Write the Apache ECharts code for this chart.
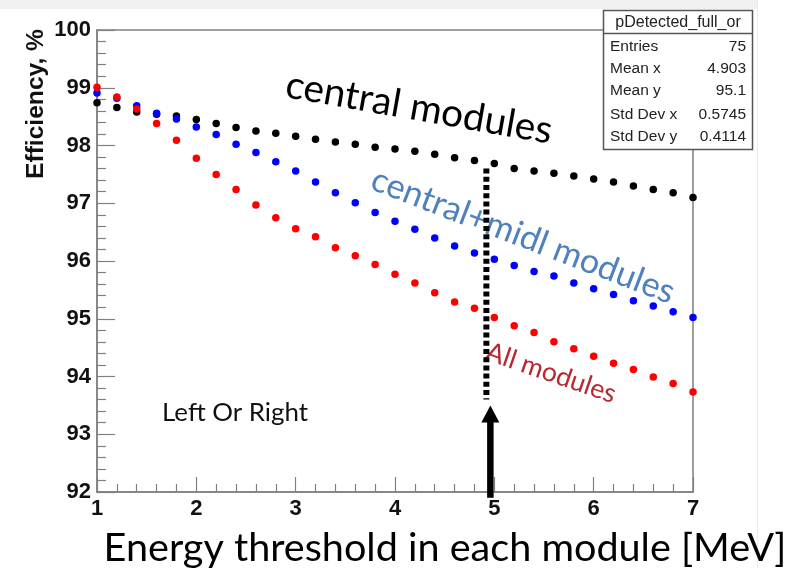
<!DOCTYPE html>
<html><head><meta charset="utf-8">
<script src="https://cdn.jsdelivr.net/npm/echarts@6/dist/echarts.min.js"></script>
<style>html,body{margin:0;padding:0;background:#fff}#c{width:790px;height:568px}</style>
</head><body><div id="c"></div>
<script>
// ---- data ----
const thresholds = [1.0,1.2,1.4,1.6,1.8,2.0,2.2,2.4,2.6,2.8,3.0,3.2,3.4,3.6,3.8,4.0,4.2,4.4,4.6,4.8,5.0,5.2,5.4,5.6,5.8,6.0,6.2,6.4,6.6,6.8,7.0];
const centralModules = [98.74,98.66,98.58,98.54,98.51,98.45,98.38,98.31,98.25,98.21,98.16,98.11,98.06,98.02,97.97,97.94,97.90,97.85,97.79,97.74,97.69,97.60,97.56,97.52,97.47,97.42,97.37,97.30,97.24,97.18,97.10];
const centralMidlModules = [98.91,98.82,98.69,98.56,98.46,98.32,98.19,98.02,97.88,97.72,97.56,97.37,97.18,97.01,96.84,96.69,96.55,96.40,96.26,96.14,96.03,95.92,95.82,95.74,95.62,95.52,95.42,95.31,95.22,95.12,95.02];
const allModules = [99.01,98.84,98.63,98.38,98.09,97.78,97.50,97.24,96.97,96.75,96.56,96.42,96.23,96.09,95.94,95.77,95.62,95.45,95.29,95.18,95.02,94.88,94.76,94.60,94.48,94.35,94.23,94.12,93.99,93.88,93.73];
const xTickLabels = ['1','2','3','4','5','6','7'];
const yTickLabels = ['92','93','94','95','96','97','98','99','100'];
const statsTitle = 'pDetected_full_or';
const statsLabels = ['Entries','Mean x','Mean y','Std Dev x','Std Dev y'];
const statsValues = ['75','4.903','95.1','0.5745','0.4114'];
const yTitle = 'Efficiency, %';
const xTitle = 'Energy threshold in each module [MeV]';
const noteCentral = 'central modules';
const noteMidl = 'central+midl modules';
const noteAll = 'All modules';
const noteSide = 'Left Or Right';
const cutX = 4.92, cutTop = 97.6, cutBottom = 93.6;
const arrowX = 4.96, arrowTip = 93.5, arrowBase = 91.9;

// ---- helpers ----
const cv = document.createElement('canvas').getContext('2d');
function fitSize(text, family, weight, width){
  cv.font = weight + ' 100px ' + family;
  return 100 * width / cv.measureText(text).width;
}
function pts(ys){ return thresholds.map((x,i)=>[x, ys[i]]); }

const chart = echarts.init(document.getElementById('c'), null, {renderer:'canvas'});
const axisGray = '#808080';
const labelFont = "'Liberation Sans Narrow','Liberation Sans',Arial,sans-serif";
const noteFont = "Lato, 'Open Sans', sans-serif";

chart.setOption({
  animation:false,
  backgroundColor:'#fff',
  grid:{left:97, right:97, top:30, bottom:76, show:true, borderColor:axisGray, borderWidth:1.5},
  xAxis:{type:'value', min:1, max:7, interval:1,
    axisLine:{lineStyle:{color:axisGray, width:1.5}},
    axisTick:{inside:true, length:15, lineStyle:{color:axisGray, width:1.2}},
    minorTick:{show:true, splitNumber:5, length:8, lineStyle:{color:axisGray, width:1.2}},
    splitLine:{show:false},
    axisLabel:{margin:6, color:'#111', fontWeight:'bold', fontSize:22, fontFamily:labelFont,
      formatter:(v)=>xTickLabels[Math.round(v)-1]}
  },
  yAxis:{type:'value', min:92, max:100, interval:1,
    axisLine:{lineStyle:{color:axisGray, width:1.5}},
    axisTick:{inside:true, length:18, lineStyle:{color:axisGray, width:1.2}},
    minorTick:{show:true, splitNumber:5, length:9, lineStyle:{color:axisGray, width:1.2}},
    splitLine:{show:false},
    axisLabel:{margin:6, color:'#111', fontWeight:'bold', fontSize:22, fontFamily:labelFont,
      formatter:(v)=>yTickLabels[Math.round(v)-92]}
  },
  series:[
    {type:'scatter', name:'central', data:pts(centralModules), symbolSize:7.5, itemStyle:{color:'#000', opacity:1}, z:2},
    {type:'scatter', name:'central+midl', data:pts(centralMidlModules), symbolSize:7.5, itemStyle:{color:'#0000ff', opacity:1}, z:3},
    {type:'scatter', name:'all', data:pts(allModules), symbolSize:7.5, itemStyle:{color:'#ff0000', opacity:1}, z:4}
  ]
});

const P = (x,y)=>chart.convertToPixel({gridIndex:0},[x,y]);
const cTop = P(cutX, cutTop), cBot = P(cutX, cutBottom);
const aTip = P(arrowX, arrowTip), aBase = P(arrowX, arrowBase);

function note(text, x, y, width, deg, color, size){
  const fs = size || fitSize(text, noteFont, 'normal', width);
  return {type:'text', x:x, y:y, rotation:-deg*Math.PI/180, z:50,
    style:{text:text, fill:color, font:'normal '+fs.toFixed(1)+'px '+noteFont,
      textAlign:'center', textVerticalAlign:'middle', align:'center', verticalAlign:'middle'}};
}

const yTitleSize = fitSize(yTitle, "'Liberation Sans',Arial", 'bold', 150);
const statsFont = "'Liberation Sans',Arial,sans-serif";
const graphics = [
  {type:'rect', shape:{x:0,y:0,width:757,height:9}, style:{fill:'#f0f0f0'}, z:0, silent:true},
  {type:'line', shape:{x1:757.5,y1:0,x2:757.5,y2:568}, style:{stroke:'#ececec', lineWidth:1}, z:0},
  // dotted cut line
  {type:'line', shape:{x1:cTop[0], y1:cTop[1], x2:cBot[0], y2:cBot[1]},
    style:{stroke:'#000', lineWidth:6, lineDash:[5,3.2], lineCap:'butt'}, z:60},
  // arrow
  {type:'line', shape:{x1:aBase[0], y1:aBase[1], x2:aTip[0], y2:aTip[1]+14},
    style:{stroke:'#000', lineWidth:6.5, lineCap:'butt'}, z:60},
  {type:'polygon', shape:{points:[[aTip[0], aTip[1]], [aTip[0]-9, aTip[1]+17], [aTip[0]+9, aTip[1]+17]]},
    style:{fill:'#000'}, z:60},
  note(noteCentral, 419, 108, 270, 10, '#000'),
  note(noteMidl, 523, 236, 322, 21, '#4f81bd'),
  note(noteAll, 551, 373, 136, 19, '#b8282e'),
  note(noteSide, 235, 413, 146, 0, '#111'),
  note(xTitle, 445, 548, 684, 0, '#000'),
  {type:'text', x:36, y:104, rotation:Math.PI/2, z:50,
    style:{text:yTitle, fill:'#111', font:'bold '+yTitleSize.toFixed(1)+"px 'Liberation Sans',Arial",
      textAlign:'center', textVerticalAlign:'middle', align:'center', verticalAlign:'middle'}},
  // stats box
  {type:'rect', shape:{x:603.5,y:10.5,width:149,height:139}, style:{fill:'#fff', stroke:'#555', lineWidth:1.5}, z:70},
  {type:'line', shape:{x1:603.5,y1:33.5,x2:752.5,y2:33.5}, style:{stroke:'#555', lineWidth:1.5}, z:71},
  {type:'text', x:678, y:22.5, z:72,
    style:{text:statsTitle, fill:'#222', font:'normal 16px '+statsFont, textAlign:'center', textVerticalAlign:'middle', align:'center', verticalAlign:'middle'}}
];
const rowY = [46.5, 69, 91, 115, 137];
statsLabels.forEach((lab,i)=>{
  graphics.push({type:'text', x:610, y:rowY[i], z:72,
    style:{text:lab, fill:'#222', font:'normal 15.5px '+statsFont, textAlign:'left', textVerticalAlign:'middle', align:'left', verticalAlign:'middle'}});
  graphics.push({type:'text', x:746, y:rowY[i], z:72,
    style:{text:statsValues[i], fill:'#222', font:'normal 15.5px '+statsFont, textAlign:'right', textVerticalAlign:'middle', align:'right', verticalAlign:'middle'}});
});
chart.setOption({graphic:graphics});
</script>
</body></html>
